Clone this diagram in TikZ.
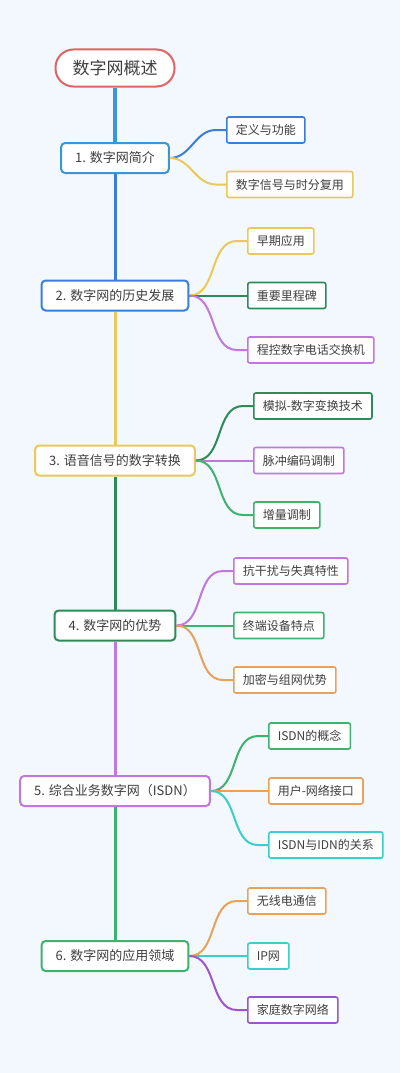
\documentclass[tikz,border=0pt]{standalone}
\usepackage{fontspec}
\setmainfont{Noto Sans CJK SC}
\definecolor{bgblue}{HTML}{F2F8FD}
\definecolor{txt}{HTML}{3E3E3E}
\definecolor{rootred}{HTML}{E06464}
\definecolor{lblue}{HTML}{3A96D8}
\definecolor{dblue}{HTML}{3B7DD8}
\definecolor{myellow}{HTML}{E8C95A}
\definecolor{dgreen}{HTML}{2E8B57}
\definecolor{mpurple}{HTML}{C276E0}
\definecolor{mgreen}{HTML}{3DB36E}
\definecolor{morange}{HTML}{E9A25A}
\definecolor{mcyan}{HTML}{3ACFCB}
\definecolor{mviolet}{HTML}{9B55D4}
\tikzset{
  rootbox/.style={draw=rootred, line width=2pt, fill=white, rounded corners=18pt,
    minimum height=37pt, inner xsep=17pt, font=\fontsize{17pt}{17pt}\selectfont, text=txt},
  topic/.style={draw=#1, line width=2pt, fill=white, rounded corners=4pt,
    minimum height=30pt, inner xsep=14pt, font=\fontsize{13pt}{13pt}\selectfont, text=txt},
  leaf/.style={draw=#1, line width=1.6pt, fill=white, rounded corners=2pt, anchor=west,
    minimum height=26pt, inner xsep=9pt, font=\fontsize{12pt}{12pt}\selectfont, text=txt},
  trunk/.style={draw=#1, line width=3pt},
  link/.style={draw=#1, line width=2pt},
}
\begin{document}
\begin{tikzpicture}[x=1pt, y=-1pt]
  \fill[bgblue] (0,0) rectangle (400,1073);
  \useasboundingbox (0,0) rectangle (400,1073);
  % main topics
  \node[rootbox] (root) at (115,68) {数字网概述};
  \node[topic=lblue] (n1) at (115,158) {1. 数字网简介};
  \node[topic=dblue] (n2) at (115,295.5) {2. 数字网的历史发展};
  \node[topic=myellow] (n3) at (115,460.5) {3. 语音信号的数字转换};
  \node[topic=dgreen] (n4) at (115,625.5) {4. 数字网的优势};
  \node[topic=mpurple] (n5) at (115,791) {5. 综合业务数字网（ISDN）};
  \node[topic=mgreen] (n6) at (115,956) {6. 数字网的应用领域};
  % trunk
  \draw[trunk=lblue, line width=4pt] (root.south) -- (n1.north);
  \draw[trunk=dblue] (n1.south) -- (n2.north);
  \draw[trunk=myellow] (n2.south) -- (n3.north);
  \draw[trunk=dgreen] (n3.south) -- (n4.north);
  \draw[trunk=mpurple] (n4.south) -- (n5.north);
  \draw[trunk=mgreen] (n5.south) -- (n6.north);
  % leaves
  \node[leaf=dblue] (a1) at (226,130) {定义与功能};
  \node[leaf=myellow] (a2) at (226,184.5) {数字信号与时分复用};
  \node[leaf=myellow] (b1) at (247,241) {早期应用};
  \node[leaf=dgreen] (b2) at (247,295.5) {重要里程碑};
  \node[leaf=mpurple] (b3) at (247,350) {程控数字电话交换机};
  \node[leaf=dgreen] (c1) at (253,406) {模拟-数字变换技术};
  \node[leaf=mpurple] (c2) at (253,460.5) {脉冲编码调制};
  \node[leaf=mgreen] (c3) at (253,515) {增量调制};
  \node[leaf=mpurple] (d1) at (233,571) {抗干扰与失真特性};
  \node[leaf=mgreen] (d2) at (233,625.5) {终端设备特点};
  \node[leaf=morange] (d3) at (233,680) {加密与组网优势};
  \node[leaf=mgreen] (e1) at (268,736) {ISDN的概念};
  \node[leaf=morange] (e2) at (268,791) {用户-网络接口};
  \node[leaf=mcyan] (e3) at (268,845) {ISDN与IDN的关系};
  \node[leaf=morange] (f1) at (247,901) {无线电通信};
  \node[leaf=mcyan] (f2) at (247,956) {IP网};
  \node[leaf=mviolet] (f3) at (247,1010) {家庭数字网络};
  % links
  \draw[link=dblue] (n1.east) to[out=0,in=180] ([xshift=-10pt]a1.west) -- (a1.west);
  \draw[link=myellow] (n1.east) to[out=0,in=180] ([xshift=-10pt]a2.west) -- (a2.west);
  \draw[link=myellow] (n2.east) to[out=0,in=180] ([xshift=-10pt]b1.west) -- (b1.west);
  \draw[link=dgreen] (n2.east) -- (b2.west);
  \draw[link=mpurple] (n2.east) to[out=0,in=180] ([xshift=-10pt]b3.west) -- (b3.west);
  \draw[link=dgreen] (n3.east) to[out=0,in=180] ([xshift=-10pt]c1.west) -- (c1.west);
  \draw[link=mpurple] (n3.east) -- (c2.west);
  \draw[link=mgreen] (n3.east) to[out=0,in=180] ([xshift=-10pt]c3.west) -- (c3.west);
  \draw[link=mpurple] (n4.east) to[out=0,in=180] ([xshift=-10pt]d1.west) -- (d1.west);
  \draw[link=mgreen] (n4.east) -- (d2.west);
  \draw[link=morange] (n4.east) to[out=0,in=180] ([xshift=-10pt]d3.west) -- (d3.west);
  \draw[link=mgreen] (n5.east) to[out=0,in=180] ([xshift=-10pt]e1.west) -- (e1.west);
  \draw[link=morange] (n5.east) -- (e2.west);
  \draw[link=mcyan] (n5.east) to[out=0,in=180] ([xshift=-10pt]e3.west) -- (e3.west);
  \draw[link=morange] (n6.east) to[out=0,in=180] ([xshift=-10pt]f1.west) -- (f1.west);
  \draw[link=mcyan] (n6.east) -- (f2.west);
  \draw[link=mviolet] (n6.east) to[out=0,in=180] ([xshift=-10pt]f3.west) -- (f3.west);
\end{tikzpicture}
\end{document}
